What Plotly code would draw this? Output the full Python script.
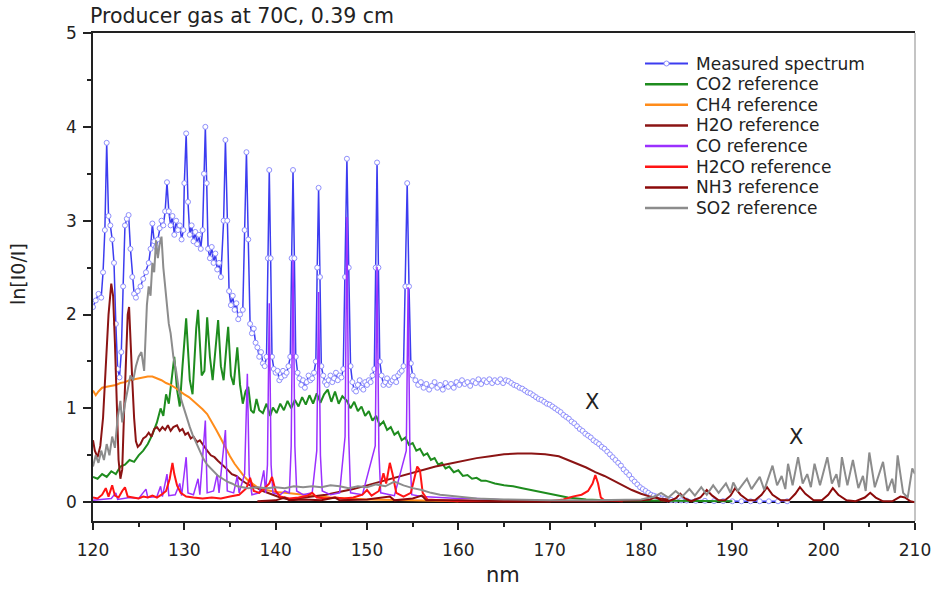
import plotly.graph_objects as go

# ---------------- data ----------------
measured_nm = [120.0,120.3,120.6,120.9,121.1,121.3,121.5,121.7,121.9,122.1,122.3,122.5,122.7,122.9,123.1,123.3,123.5,123.7,123.9,124.1,
 124.3,124.5,124.7,124.9,125.2,125.5,125.8,126.1,126.3,126.5,126.7,126.9,127.1,127.3,127.5,127.7,127.9,128.1,128.3,128.5,
 128.7,128.9,129.1,129.3,129.5,129.7,129.9,130.0,130.2,130.4,130.6,130.8,131.0,131.2,131.4,131.6,131.8,132.0,132.15,132.3,
 132.45,132.6,132.8,133.0,133.2,133.4,133.6,133.8,134.0,134.3,134.5,134.7,134.9,135.1,135.3,135.5,135.7,135.9,136.1,136.4,
 136.6,136.8,137.0,137.2,137.4,137.6,137.8,138.0,138.2,138.4,138.6,138.8,139.0,139.15,139.3,139.45,139.6,139.8,140.0,140.2,
 140.4,140.6,140.8,141.0,141.2,141.4,141.6,141.75,141.9,142.05,142.2,142.4,142.6,142.8,143.0,143.2,143.4,143.6,143.8,144.0,
 144.2,144.4,144.55,144.7,144.85,145.0,145.2,145.4,145.6,145.8,146.0,146.2,146.4,146.6,146.8,147.0,147.2,147.4,147.6,147.8,
 148.0,148.2,148.4,148.6,148.8,149.0,149.2,149.4,149.6,149.8,150.0,150.2,150.4,150.6,150.8,150.95,151.1,151.25,151.4,151.6,
 151.8,152.0,152.2,152.4,152.6,152.8,153.0,153.2,153.4,153.6,153.8,154.0,154.2,154.4,154.6,154.8,155.0,155.3,155.6,155.9,
 156.2,156.5,156.8,157.1,157.4,157.7,158.0,158.3,158.6,158.9,159.2,159.5,159.8,160.1,160.4,160.7,161.0,161.3,161.6,161.9,
 162.2,162.5,162.8,163.1,163.4,163.7,164.0,164.3,164.6,164.9,165.2,165.5,165.8,166.1,166.4,166.7,167.0,167.3,167.6,167.9,
 168.2,168.5,168.8,169.1,169.4,169.7,170.0,170.3,170.6,170.9,171.2,171.5,171.8,172.1,172.4,172.7,173.0,173.3,173.6,173.9,
 174.2,174.5,174.8,175.1,175.4,175.7,176.0,176.3,176.6,176.9,177.2,177.5,177.8,178.1,178.4,178.7,179.0,179.3,179.6,179.9,
 180.2,180.5,180.8,181.1,181.4,181.7,182.0,182.3,182.6,182.9,183.3,183.8,184.4,185.0,186.0,187.0,188.0,189.0,190.0,191.0,
 192.0,193.0,194.0,195.0,196.0]
measured_val = [2.08,2.15,2.22,2.18,2.45,2.90,3.83,3.05,2.95,2.80,2.55,1.90,1.42,1.33,1.60,2.30,2.95,3.02,3.06,2.70,
 2.40,2.22,2.18,2.25,2.30,2.38,2.45,2.55,2.70,2.97,2.78,2.72,2.80,2.92,3.00,2.95,3.10,3.41,3.10,2.95,
 3.05,2.85,3.00,2.90,2.95,2.80,2.90,3.40,3.93,3.20,2.85,2.95,2.78,2.88,2.75,2.85,2.70,2.90,3.50,4.00,
 3.40,2.70,2.60,2.72,2.55,2.65,2.48,2.55,2.40,3.00,3.86,3.00,2.25,2.10,2.20,2.05,2.12,1.95,2.00,2.05,
 2.90,3.73,2.80,1.90,1.80,1.85,1.70,1.65,1.55,1.60,1.48,1.45,1.55,2.60,3.54,2.60,1.55,1.42,1.38,1.40,
 1.30,1.33,1.40,1.35,1.38,1.45,1.55,2.60,3.54,2.60,1.55,1.38,1.32,1.25,1.30,1.22,1.28,1.35,1.30,1.32,
 1.38,1.50,2.50,3.35,2.40,1.45,1.35,1.28,1.25,1.30,1.35,1.28,1.32,1.38,1.30,1.35,1.33,1.42,2.40,3.66,
 2.50,1.45,1.28,1.20,1.18,1.25,1.30,1.22,1.20,1.28,1.25,1.30,1.28,1.35,1.42,2.50,3.62,2.50,1.50,1.35,
 1.25,1.28,1.32,1.25,1.28,1.30,1.33,1.28,1.35,1.38,1.40,1.45,2.30,3.40,2.30,1.48,1.35,1.30,1.25,1.28,
 1.22,1.26,1.20,1.24,1.28,1.22,1.25,1.20,1.27,1.23,1.26,1.22,1.28,1.25,1.30,1.26,1.28,1.24,1.29,1.27,
 1.31,1.26,1.30,1.28,1.31,1.27,1.30,1.28,1.31,1.27,1.30,1.29,1.27,1.25,1.24,1.22,1.21,1.19,1.17,1.16,
 1.14,1.12,1.10,1.09,1.07,1.05,1.04,1.02,1.00,0.98,0.96,0.93,0.91,0.89,0.86,0.84,0.81,0.78,0.76,0.73,
 0.71,0.69,0.66,0.64,0.62,0.59,0.57,0.54,0.51,0.48,0.45,0.42,0.39,0.35,0.32,0.29,0.25,0.22,0.19,0.16,
 0.14,0.12,0.10,0.08,0.07,0.06,0.05,0.04,0.035,0.03,0.025,0.02,0.02,0.018,0.015,0.015,0.012,0.012,0.01,0.01,
 0.01,0.01,0.01,0.01,0.01]

co2_nm = [120.0,120.5,121.0,121.5,122.0,122.5,123.0,123.5,124.0,124.5,125.0,125.5,126.0,126.5,127.0,127.4,127.7,128.0,128.3,128.6,
 128.9,129.2,129.5,129.8,130.2,130.6,130.9,131.3,131.5,131.9,132.2,132.5,132.8,133.1,133.4,133.7,134.0,134.3,134.6,134.8,
 135.1,135.4,135.8,136.1,136.4,136.7,137.0,137.3,137.6,137.9,138.2,138.6,139.0,139.4,139.7,140.1,140.5,140.9,141.3,141.7,
 142.1,142.5,142.9,143.3,143.7,144.1,144.5,144.9,145.3,145.7,146.1,146.5,146.9,147.3,147.8,148.2,148.6,149.0,149.4,149.8,
 150.2,150.6,151.0,151.4,151.8,152.2,152.6,153.0,153.4,153.8,154.2,154.6,155.0,155.4,155.8,156.2,156.6,157.0,157.4,157.8,
 158.2,158.6,159.0,159.5,160.0,160.5,161.0,161.5,162.0,162.5,163.0,164.0,165.0,166.0,167.0,168.0,169.0,170.0,171.0,172.0,
 173.0,174.0,176.0,180.0,185.0,190.0]
co2_val = [0.27,0.25,0.30,0.27,0.33,0.30,0.38,0.40,0.45,0.43,0.50,0.55,0.62,0.72,0.85,1.00,0.92,1.15,1.05,1.30,
 1.55,1.20,1.02,1.45,1.96,1.30,1.15,1.85,2.05,1.35,1.40,1.97,1.55,1.30,1.60,1.94,1.45,1.30,1.65,1.87,
 1.35,1.25,1.65,1.25,1.05,1.18,1.23,0.98,0.95,1.10,0.98,0.95,1.05,0.92,1.01,0.95,1.05,0.98,1.08,1.00,
 1.09,1.02,1.12,1.04,1.14,1.05,1.16,1.06,1.15,1.20,1.07,1.18,1.05,1.13,1.08,1.00,1.07,0.97,1.02,0.92,
 0.97,0.87,0.92,0.82,0.86,0.77,0.80,0.72,0.75,0.66,0.69,0.61,0.63,0.55,0.57,0.50,0.52,0.45,0.47,0.40,
 0.42,0.36,0.38,0.32,0.34,0.28,0.29,0.25,0.26,0.23,0.23,0.20,0.18,0.17,0.15,0.13,0.11,0.09,0.07,0.05,
 0.04,0.03,0.02,0.015,0.01,0.01]

ch4_nm = [120.0,120.3,120.6,121.0,121.5,122.0,122.5,123.0,123.5,124.0,124.5,125.0,125.5,126.0,126.5,127.0,127.5,128.0,128.5,129.0,
 129.5,130.0,130.5,131.0,131.5,132.0,132.5,133.0,133.5,134.0,134.5,135.0,135.5,136.0,136.5,137.0,137.5,138.0,138.5,139.0,
 140.0,141.0,142.0,143.0,144.0,146.0,148.0,150.0,155.0,160.0]
ch4_val = [1.19,1.14,1.18,1.22,1.23,1.24,1.25,1.27,1.28,1.30,1.31,1.32,1.33,1.34,1.34,1.32,1.30,1.27,1.25,1.22,
 1.18,1.15,1.12,1.08,1.04,0.99,0.94,0.86,0.77,0.68,0.58,0.49,0.41,0.34,0.28,0.23,0.19,0.16,0.14,0.13,
 0.11,0.10,0.09,0.08,0.07,0.05,0.04,0.03,0.02,0.01]

h2o_nm = [120.0,120.2,120.5,120.8,121.1,121.4,121.7,122.0,122.2,122.4,122.6,122.8,123.0,123.2,123.4,123.6,123.8,123.95,124.1,124.3,
 124.5,124.7,124.9,125.2,125.5,125.8,126.1,126.4,126.7,127.0,127.3,127.6,127.9,128.2,128.5,128.8,129.2,129.5,129.8,130.1,
 130.4,130.7,131.0,131.4,131.7,132.1,132.5,132.9,133.3,133.7,134.2,134.7,135.2,135.7,136.2,136.8,137.4,138.0,138.6,139.2,
 139.8,140.5,141.5,142.5,144.0,145.5,147.0,148.5,150.0,151.5,153.0,154.5,156.0,157.5,159.0,160.5,162.0,163.5,165.0,166.5,
 168.0,169.5,171.0,172.0,173.0,174.0,175.0,176.0,177.0,178.0,179.0,180.0,181.0,182.0,183.0]
h2o_val = [0.66,0.55,0.48,0.60,0.90,1.50,2.00,2.33,2.20,1.70,1.00,0.45,0.25,0.35,0.95,1.60,2.00,2.08,1.80,1.30,
 0.90,0.65,0.59,0.62,0.68,0.70,0.74,0.70,0.78,0.80,0.76,0.80,0.77,0.82,0.76,0.80,0.82,0.76,0.78,0.72,
 0.74,0.68,0.70,0.64,0.66,0.60,0.55,0.50,0.48,0.44,0.40,0.35,0.30,0.28,0.24,0.20,0.17,0.15,0.12,0.10,
 0.08,0.05,0.03,0.04,0.06,0.08,0.11,0.14,0.18,0.22,0.26,0.30,0.34,0.38,0.41,0.44,0.47,0.49,0.51,0.52,
 0.52,0.51,0.49,0.45,0.41,0.37,0.32,0.28,0.23,0.18,0.13,0.09,0.06,0.04,0.03]

co_nm = [120.0,121.0,122.0,122.5,122.7,124.0,125.0,125.8,126.0,127.0,127.4,127.6,128.1,128.3,129.0,129.5,129.7,130.2,130.4,131.0,
 131.5,131.7,132.3,132.5,133.2,133.6,133.8,134.5,134.7,135.4,135.8,136.0,136.6,136.9,137.1,137.4,138.2,138.7,138.9,139.1,
 139.3,139.5,139.7,140.5,141.0,141.5,141.7,141.9,142.1,142.3,143.0,144.0,144.5,144.7,144.9,145.1,146.0,147.0,147.6,147.8,
 148.0,148.2,149.5,150.9,151.1,151.3,151.5,153.0,154.3,154.5,154.7,154.9,156.0,158.0,160.0,162.0,164.0,166.0,168.0]
co_val = [0.02,0.03,0.04,0.10,0.03,0.05,0.04,0.14,0.05,0.06,0.17,0.06,0.30,0.07,0.08,0.20,0.07,0.48,0.10,0.08,
 0.25,0.08,0.87,0.10,0.12,0.30,0.10,0.77,0.12,0.10,0.28,0.10,0.30,1.37,0.30,0.08,0.10,0.34,0.10,0.40,
 2.12,0.40,0.10,0.08,0.12,0.10,0.60,2.58,0.60,0.12,0.08,0.10,0.55,2.24,0.50,0.12,0.08,0.10,0.70,3.04,
 0.70,0.10,0.08,0.60,2.51,0.55,0.10,0.07,0.55,2.29,0.50,0.08,0.06,0.05,0.04,0.04,0.03,0.02,0.02]

h2co_nm = [120.0,120.5,121.0,121.4,121.7,122.1,122.4,122.8,123.2,123.5,123.8,124.5,125.0,125.5,126.0,126.5,127.0,127.5,128.0,128.4,
 128.7,128.9,129.2,129.6,130.2,131.0,132.0,133.0,134.0,135.0,136.0,136.8,137.2,137.6,138.2,138.8,139.3,139.6,140.0,140.5,
 141.5,142.5,143.5,144.0,144.5,145.5,146.5,147.5,148.5,149.5,150.0,150.5,151.3,151.8,152.1,152.5,152.8,153.2,154.0,154.8,
 155.2,155.5,155.8,156.1,156.6,158.0,160.0,165.0,170.0,171.5,172.5,173.5,174.2,174.7,175.0,175.3,175.6,176.0,178.0]
h2co_val = [0.05,0.04,0.08,0.15,0.06,0.18,0.07,0.05,0.12,0.16,0.06,0.05,0.04,0.06,0.05,0.07,0.05,0.08,0.12,0.25,
 0.42,0.30,0.18,0.10,0.06,0.05,0.04,0.05,0.04,0.06,0.08,0.15,0.26,0.12,0.10,0.15,0.20,0.27,0.12,0.06,
 0.04,0.05,0.07,0.10,0.05,0.04,0.05,0.04,0.05,0.08,0.13,0.07,0.12,0.31,0.20,0.42,0.30,0.10,0.06,0.10,
 0.25,0.38,0.34,0.10,0.03,0.02,0.01,0.01,0.01,0.03,0.06,0.08,0.12,0.20,0.29,0.20,0.05,0.02,0.01]

nh3_nm = [138.0,140.0,141.0,141.5,143.0,145.0,146.5,147.0,150.0,152.5,153.0,155.0,156.0,156.5,160.0,165.0,170.0,175.0,180.0,181.0,
 181.6,182.2,183.0,183.8,184.3,184.8,185.5,186.5,187.2,187.8,188.5,189.2,189.8,190.3,190.9,191.7,192.5,193.2,193.8,194.4,
 195.3,196.2,196.9,197.4,198.0,198.9,199.8,200.5,201.0,201.6,202.5,203.5,204.5,205.1,205.7,206.5,207.5,208.0,208.4,208.9,
 209.5,210.0]
nh3_val = [0.01,0.02,0.05,0.02,0.03,0.02,0.05,0.02,0.03,0.06,0.02,0.04,0.07,0.02,0.02,0.01,0.01,0.01,0.02,0.03,
 0.06,0.02,0.01,0.04,0.09,0.04,0.01,0.05,0.13,0.07,0.02,0.02,0.07,0.15,0.08,0.02,0.02,0.08,0.16,0.08,
 0.02,0.02,0.09,0.16,0.09,0.02,0.02,0.08,0.15,0.08,0.02,0.01,0.05,0.10,0.05,0.01,0.01,0.04,0.06,0.05,
 0.01,0.0]

so2_nm = [120.0,120.3,120.6,120.9,121.2,121.5,121.8,122.1,122.4,122.7,123.0,123.2,123.5,123.8,124.1,124.4,124.7,125.0,125.3,125.6,
 125.9,126.1,126.3,126.5,126.7,126.9,127.1,127.3,127.5,127.7,127.9,128.1,128.3,128.5,128.8,129.1,129.4,129.7,130.0,130.3,
 130.6,130.9,131.2,131.5,131.8,132.1,132.5,132.9,133.3,133.7,134.2,134.7,135.2,135.8,136.4,137.0,138.0,139.0,140.0,141.0,
 142.0,143.0,144.0,145.0,146.0,147.0,148.0,149.0,150.0,151.0,152.0,153.0,154.0,155.0,156.0,157.0,158.0,159.0,160.0,161.0,
 162.0,165.0,170.0,175.0,180.0,181.5,182.2,183.0,183.8,184.5,185.3,185.9,186.6,187.2,187.9,188.5,189.3,189.8,190.1,190.6,
 191.6,192.1,193.0,193.5,194.4,194.9,195.4,195.8,196.1,196.6,197.2,197.7,198.2,198.6,199.0,199.6,200.4,200.9,201.4,201.7,
 202.0,202.6,203.2,203.8,204.3,204.6,205.0,205.6,206.5,207.0,207.5,207.8,208.1,208.7,209.2,209.7,210.0]
so2_val = [0.38,0.50,0.42,0.55,0.45,0.62,0.50,0.70,0.58,0.90,1.08,0.85,1.05,1.20,1.35,1.30,1.45,1.55,1.60,1.40,
 2.10,2.30,2.20,2.55,2.45,2.79,2.60,2.75,2.83,2.50,2.30,2.10,1.90,1.80,1.55,1.40,1.20,1.08,0.98,0.90,
 0.80,0.72,0.65,0.58,0.52,0.46,0.40,0.36,0.32,0.28,0.25,0.22,0.20,0.17,0.16,0.15,0.16,0.15,0.16,0.15,
 0.17,0.16,0.17,0.16,0.18,0.17,0.15,0.17,0.16,0.19,0.17,0.22,0.18,0.15,0.13,0.10,0.08,0.07,0.06,0.05,
 0.04,0.03,0.02,0.02,0.03,0.06,0.10,0.05,0.12,0.06,0.14,0.07,0.16,0.08,0.18,0.10,0.20,0.10,0.21,0.12,
 0.25,0.14,0.27,0.13,0.39,0.18,0.28,0.14,0.41,0.18,0.48,0.20,0.30,0.16,0.41,0.18,0.48,0.20,0.30,0.16,
 0.48,0.18,0.45,0.15,0.28,0.12,0.53,0.16,0.43,0.12,0.25,0.10,0.50,0.10,0.05,0.36,0.30]

series_names = ["Measured spectrum", "CO2 reference", "CH4 reference", "H2O reference",
                "CO reference", "H2CO reference", "NH3 reference", "SO2 reference"]
series_colors = ["#3c3cf0", "#1e8c1e", "#ff8c1a", "#8b1414", "#9b30ff", "#ff1414", "#8b0a0a", "#8c8c8c"]
marker_labels = ["X", "X"]
marker_nm = [174.6, 197.0]
marker_val = [1.07, 0.69]

title_text = "Producer gas at 70C, 0.39 cm"
x_title = "nm"
y_title = "ln[I0/I]"

# ---------------- figure ----------------
FONT = "DejaVu Sans"
W, H = 935, 590
ML, MR, MT, MB = 93, 20, 33, 69
PW, PH = W - ML - MR, H - MT - MB


def px_x(p):
    return (p - ML) / PW


def px_y(p):
    return (H - MB - p) / PH


fig = go.Figure()

fig.add_trace(go.Scatter(
    x=measured_nm, y=measured_val, name=series_names[0], mode="lines+markers", showlegend=False,
    line=dict(color=series_colors[0], width=1.5),
    marker=dict(symbol="circle", size=5, color="white", line=dict(color="#8f8ffc", width=1))))

refs = [
    (co2_nm, co2_val, 1, 2),
    (ch4_nm, ch4_val, 2, 2),
    (h2o_nm, h2o_val, 3, 2),
    (co_nm, co_val, 4, 1.5),
    (h2co_nm, h2co_val, 5, 2),
    (nh3_nm, nh3_val, 6, 2),
    (so2_nm, so2_val, 7, 2),
]
for xs, ys, i, w in refs:
    fig.add_trace(go.Scatter(x=xs, y=ys, name=series_names[i], mode="lines", showlegend=False,
                             line=dict(color=series_colors[i], width=w)))

# legend drawn in the corner (line samples + real text)
for i, (nm, col) in enumerate(zip(series_names, series_colors)):
    yc = px_y(63.5 + 20.65 * i)
    fig.add_shape(type="line", xref="paper", yref="paper", x0=px_x(645), x1=px_x(688),
                  y0=yc, y1=yc, line=dict(color=col, width=2.5 if i else 2))
    fig.add_annotation(xref="paper", yref="paper", x=px_x(694), y=yc, text=nm,
                       xanchor="left", yanchor="middle", showarrow=False,
                       font=dict(family=FONT, size=17, color="#222"))
fig.add_shape(type="circle", xref="paper", yref="paper", xsizemode="pixel", ysizemode="pixel",
              xanchor=px_x(666.5), yanchor=px_y(63.5), x0=-2.5, x1=2.5, y0=-2.5, y1=2.5,
              fillcolor="white", line=dict(color="#8f8ffc", width=1))

for lab, xv, yv in zip(marker_labels, marker_nm, marker_val):
    fig.add_annotation(x=xv, y=yv, text=lab, showarrow=False,
                       font=dict(family=FONT, size=21, color="#222"))

fig.add_annotation(xref="paper", yref="paper", x=px_x(18), y=px_y(274), text=y_title,
                   textangle=-90, showarrow=False, xanchor="center", yanchor="middle",
                   font=dict(family=FONT, size=19, color="#222"))
fig.add_annotation(xref="paper", yref="paper", x=px_x(503), y=px_y(575), text=x_title,
                   showarrow=False, xanchor="center", yanchor="middle",
                   font=dict(family=FONT, size=21, color="#222"))

fig.add_shape(type="line", xref="paper", yref="paper", x0=1, x1=1, y0=0, y1=1,
              line=dict(color="#b0b0b0", width=1.5))

fig.update_layout(
    width=W, height=H,
    margin=dict(l=ML, r=MR, t=MT, b=MB, autoexpand=False),
    paper_bgcolor="white", plot_bgcolor="white",
    font=dict(family=FONT, size=17, color="#222"),
    title=dict(text=title_text, xref="container", x=90 / W, xanchor="left",
               yref="container", y=0.974, yanchor="middle",
               font=dict(family=FONT, size=20.5, color="#222")),
    showlegend=False,
    xaxis=dict(range=[120, 210], dtick=10, tick0=120, showgrid=False, zeroline=False,
               automargin=False,
               showline=True, linecolor="#222", linewidth=1.5, mirror=True,
               ticks="outside", ticklen=7, tickwidth=1.5, tickcolor="#222",
               ticklabelstandoff=6,
               minor=dict(dtick=5, ticks="outside", ticklen=4, tickwidth=1.5, tickcolor="#222")),
    yaxis=dict(range=[-0.2, 5], dtick=1, tick0=0, showgrid=False, automargin=False,
               zeroline=True, zerolinecolor="#111", zerolinewidth=1.5,
               showline=True, linecolor="#222", linewidth=1.5,
               ticks="outside", ticklen=8, tickwidth=1.5, tickcolor="#222",
               ticklabelstandoff=3,
               minor=dict(dtick=0.5, ticks="outside", ticklen=4, tickwidth=1.5, tickcolor="#222")),
)

fig.write_html("out.html")
